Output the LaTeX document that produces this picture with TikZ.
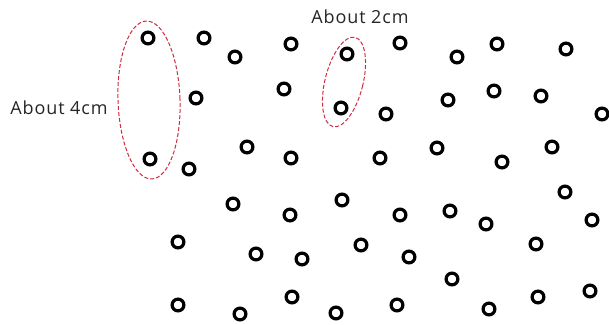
\documentclass[tikz,border=0pt]{standalone}
\usepackage{fontspec}
\setmainfont{Open Sans}[LetterSpace=5]
\usetikzlibrary{shapes.geometric}
\definecolor{dashred}{RGB}{205,45,65}
\tikzset{
  ring/.style={circle, draw=black, line width=3.2pt, minimum size=11.8pt, inner sep=0pt},
  oval/.style={ellipse, draw=dashred, line width=1pt, dash pattern=on 4pt off 2pt, inner sep=0pt},
  lbl/.style={font=\fontsize{18}{21}\selectfont, text=black!85, inner sep=0pt}
}
\begin{document}
\begin{tikzpicture}[x=1pt,y=-1pt]
\useasboundingbox (0,0) rectangle (609,324);
\foreach \px/\py [count=\i] in {
148/38,204/38,235/57,291/44,196/98,284/89,247/147,150/159,291/158,
347/54,400/43,457/57,497/44,566/49,341/108,386/114,448/100,494/91,541/96,602/114,
380/158,437/148,502/162,552/147,189/169,233/204,290/215,178/242,256/254,302/259,
178/305,240/314,292/297,342/200,400/215,450/211,486/224,565/192,592/220,
361/245,409/257,536/244,452/279,336/313,397/305,489/309,538/297,590/291}
  \node[ring] (c\i) at (\px,\py) {};
\node[oval, minimum width=62pt, minimum height=158pt, rotate=2] (big) at (149,100) {};
\node[oval, minimum width=38pt, minimum height=92pt, rotate=-14] (small) at (344,82) {};
\node[lbl] (t4) at (59,108) {About 4cm};
\node[lbl] (t2) at (360,17) {About 2cm};
\end{tikzpicture}
\end{document}
